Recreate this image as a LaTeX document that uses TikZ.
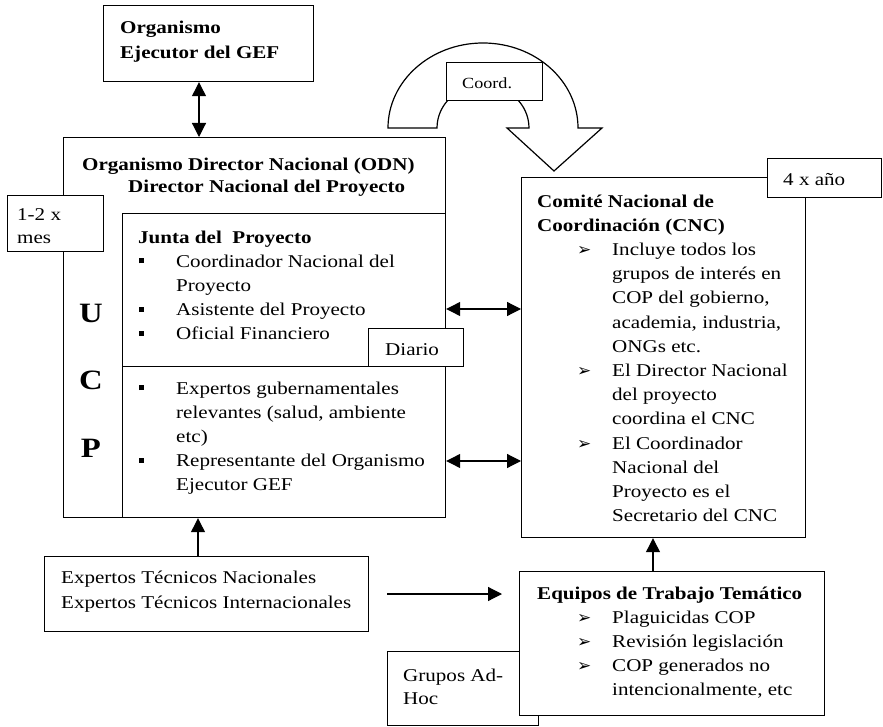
\documentclass[tikz,border=0pt]{standalone}
\usepackage{fontspec}
\setmainfont{Liberation Serif}[FakeStretch=1.17]
\newfontfamily\dejavu{DejaVu Sans}
\usetikzlibrary{arrows.meta}
\newcommand\sqb{\rule[0.22em]{5pt}{5pt}}
\newcommand\arrb{{\dejavu\fontsize{17}{17}\selectfont ➢}}
\newcommand\bitem[3]{\hspace*{#1}\makebox[#2][l]{#3}}
\begin{document}
\begin{tikzpicture}[x=1pt,y=-1pt,
  box/.style={draw, line width=1.2pt, fill=white, rectangle, inner sep=0pt, anchor=north west},
  txt/.style={anchor=north west, inner sep=0pt, align=left, font=\fontsize{18}{24.2}\selectfont},
  ltxt/.style={anchor=base west, inner sep=0pt, font=\fontsize{18}{24.2}\selectfont},
  tip/.tip={Triangle[length=14pt,width=14pt]},
  arr/.style={line width=1.2pt, -tip},
  darr/.style={line width=1.2pt, tip-tip}]
\useasboundingbox (0,0) rectangle (883,727);
% helper coordinates
\coordinate (x199) at (199,0);
\coordinate (x198) at (198,0);
\coordinate (x653) at (653,0);
\coordinate (y309) at (0,309);
\coordinate (y461) at (0,461);
% top box
\node[box, minimum width=210pt, minimum height=76pt] (ejec) at (103,5) {};
\node[txt, font=\bfseries\fontsize{18}{25}\selectfont] (tejec) at (120,15.5) {\strut Organismo\\Ejecutor del GEF};
% curved arrow
\draw[line width=1.2pt, fill=white] (388,128) arc[start angle=180, end angle=360, x radius=95, y radius=85]
  -- (602,128) -- (554,171) -- (507,128) -- (529,128)
  arc[start angle=0, end angle=-180, x radius=46, y radius=43] -- cycle;
\node[box, minimum width=96pt, minimum height=38pt] (coord) at (446,62) {};
\node[ltxt, font=\fontsize{15.5}{18}\selectfont] (tcoord) at (462,89) {Coord.};
% ODN / UCP
\node[box, minimum width=382pt, minimum height=380pt] (odn) at (63,137) {};
\node[txt, font=\bfseries\fontsize{18}{22}\selectfont] (todn) at (82,154.6) {\strut Organismo Director Nacional (ODN)\\\hspace*{46pt}Director Nacional del Proyecto};
\node[box, minimum width=96pt, minimum height=56pt] (mes) at (7,195) {};
\node[txt, font=\fontsize{18}{23}\selectfont] (tmes) at (17,203.9) {\strut 1-2 x\\mes};
\node[box, minimum width=323pt, minimum height=153pt] (junta) at (122,213) {};
\node[box, minimum width=323pt, minimum height=151pt] (gov) at (122,366) {};
\node[txt] (tjunta) at (138,226) {\strut\textbf{Junta del\ \ Proyecto}\\
  \bitem{1pt}{37pt}{\sqb}Coordinador Nacional del\\
  \hspace*{38pt}Proyecto\\
  \bitem{1pt}{37pt}{\sqb}Asistente del Proyecto\\
  \bitem{1pt}{37pt}{\sqb}Oficial Financiero};
\node[txt] (tgov) at (138,377) {\strut\bitem{1pt}{37pt}{\sqb}Expertos gubernamentales\\
  \hspace*{38pt}relevantes (salud, ambiente\\
  \hspace*{38pt}etc)\\
  \bitem{1pt}{37pt}{\sqb}Representante del Organismo\\
  \hspace*{38pt}Ejecutor GEF};
\node[box, minimum width=95pt, minimum height=38pt] (diario) at (368,328) {};
\node[ltxt] (tdiario) at (385,355) {Diario};
\node[anchor=base, inner sep=0pt, font=\bfseries\fontsize{28}{28}\selectfont] (lu) at (91,322) {U};
\node[anchor=base, inner sep=0pt, font=\bfseries\fontsize{28}{28}\selectfont] (lc) at (91,389) {C};
\node[anchor=base, inner sep=0pt, font=\bfseries\fontsize{28}{28}\selectfont] (lp) at (91,457) {P};
% CNC
\node[box, minimum width=284pt, minimum height=360pt] (cnc) at (521,177) {};
\node[box, minimum width=114pt, minimum height=39pt] (ano) at (767,158) {};
\node[ltxt] (tano) at (783,186) {4 x año};
\node[txt] (tcnc) at (537,190) {\strut\textbf{Comité Nacional de}\\
  \textbf{Coordinación (CNC)}\\
  \bitem{40pt}{35pt}{\arrb}Incluye todos los\\
  \hspace*{75pt}grupos de interés en\\
  \hspace*{75pt}COP del gobierno,\\
  \hspace*{75pt}academia, industria,\\
  \hspace*{75pt}ONGs etc.\\
  \bitem{40pt}{35pt}{\arrb}El Director Nacional\\
  \hspace*{75pt}del proyecto\\
  \hspace*{75pt}coordina el CNC\\
  \bitem{40pt}{35pt}{\arrb}El Coordinador\\
  \hspace*{75pt}Nacional del\\
  \hspace*{75pt}Proyecto es el\\
  \hspace*{75pt}Secretario del CNC};
% bottom
\node[box, minimum width=324pt, minimum height=75pt] (expt) at (44,556) {};
\node[txt, font=\fontsize{18}{25}\selectfont] (texpt) at (61,565.5) {\strut Expertos Técnicos Nacionales\\Expertos Técnicos Internacionales};
\node[box, minimum width=151pt, minimum height=74pt] (grupos) at (387,651) {};
\node[txt, font=\fontsize{18}{23}\selectfont] (tgrupos) at (403,665) {\strut Grupos Ad-\\Hoc};
\node[box, minimum width=305pt, minimum height=144pt] (equip) at (519,571) {};
\node[txt] (tequip) at (537,582) {\strut\textbf{Equipos de Trabajo Temático}\\
  \bitem{40pt}{35pt}{\arrb}Plaguicidas COP\\
  \bitem{40pt}{35pt}{\arrb}Revisión legislación\\
  \bitem{40pt}{35pt}{\arrb}COP generados no\\
  \hspace*{75pt}intencionalmente, etc};
% connectors
\draw[darr] (x199 |- ejec.south) -- (x199 |- odn.north);
\draw[darr] (junta.east |- y309) -- (cnc.west |- y309);
\draw[darr] (gov.east |- y461) -- (cnc.west |- y461);
\draw[arr] (x198 |- expt.north) -- (x198 |- odn.south);
\coordinate (fa) at (387,594);
\coordinate (fb) at (502,594);
\draw[arr] (fa) -- (fb);
\draw[arr] (x653 |- equip.north) -- (x653 |- cnc.south);
\end{tikzpicture}
\end{document}
